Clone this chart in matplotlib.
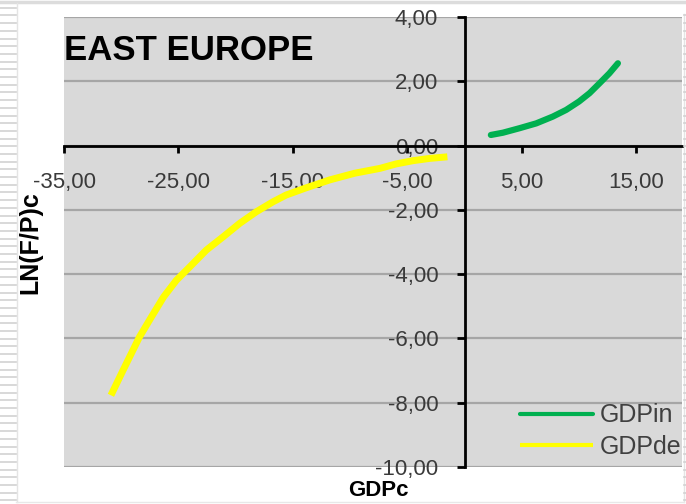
import matplotlib
matplotlib.use("Agg")
import matplotlib.pyplot as plt
import matplotlib.ticker as ticker
from matplotlib.lines import Line2D

# data
gdp_in_x = [2.3, 3.35, 4.8, 6.26, 7.7, 8.88, 10.0, 10.92, 11.8, 12.66, 13.4]
gdp_in_y = [0.33, 0.40, 0.54, 0.69, 0.90, 1.11, 1.37, 1.63, 1.94, 2.25, 2.56]

gdp_de_x = [-30.9, -29.84, -28.4, -27.36, -26.3, -25.18, -24.0, -22.56, -21.1,
            -19.65, -18.2, -16.74, -15.6, -13.97, -11.8, -9.6, -7.4, -5.97,
            -4.5, -3.06, -1.5]
gdp_de_y = [-7.77, -6.99, -5.95, -5.33, -4.71, -4.19, -3.77, -3.25, -2.84,
            -2.42, -2.06, -1.75, -1.54, -1.33, -1.07, -0.86, -0.71, -0.57,
            -0.47, -0.40, -0.35]

x_ticks = [-35, -25, -15, -5, 5, 15]
y_ticks = [-10, -8, -6, -4, -2, 0, 2, 4]

W, H = 686, 504
plt.rcParams['font.family'] = ['Liberation Sans', 'DejaVu Sans']

fig = plt.figure(figsize=(W / 100, H / 100), dpi=100)
fig.patch.set_facecolor('white')

# spreadsheet background bits around the chart
def fx(px):
    return px / W

def fy(py):
    return 1 - py / H

fig.add_artist(Line2D([0, 1], [fy(1.5), fy(1.5)], color='#dcdcdc', lw=2.5))
fig.add_artist(Line2D([fx(16.5), fx(16.5)], [fy(3), fy(502)], color='#e4e4e4', lw=1))
fig.add_artist(Line2D([fx(684), fx(684)], [fy(14), fy(502)], color='#e4e4e4', lw=1))
fig.add_artist(Line2D([fx(16), fx(684)], [fy(502), fy(502)], color='#e8e8e8', lw=1))
py = 7.7
while py < H:
    fig.add_artist(Line2D([0, fx(16)], [fy(py), fy(py)], color='#d2d2d2', lw=1.2))
    if py > 14:
        fig.add_artist(Line2D([fx(684), 1], [fy(py), fy(py)], color='#d2d2d2', lw=1.2))
    py += 7.7

ax = fig.add_axes([fx(64), fy(467), (682 - 64) / W, (467 - 17) / H])
ax.set_facecolor('#d9d9d9')

ax.plot(gdp_in_x, gdp_in_y, color='#00b050', lw=4.5, solid_capstyle='round',
        solid_joinstyle='round', label='GDPin', zorder=3)
ax.plot(gdp_de_x, gdp_de_y, color='#ffff00', lw=5, solid_capstyle='butt',
        solid_joinstyle='round', label='GDPde', zorder=3)

ax.set_xlim(-35, 19)
ax.set_ylim(-10, 4)
ax.set_xticks(x_ticks)
ax.set_yticks(y_ticks)

fmt = ticker.FuncFormatter(lambda v, p: f"{v:.2f}".replace('.', ','))
ax.xaxis.set_major_formatter(fmt)
ax.yaxis.set_major_formatter(fmt)

ax.spines['top'].set_visible(False)
ax.spines['right'].set_visible(False)
ax.spines['left'].set_position(('data', 0))
ax.spines['bottom'].set_position(('data', 0))
for s in ('left', 'bottom'):
    ax.spines[s].set_linewidth(2)
    ax.spines[s].set_color('black')
    ax.spines[s].set_zorder(4)

ax.tick_params(axis='x', direction='out', length=5, width=2, pad=14,
               labelsize=16, labelcolor='#3a3a3a')
ax.tick_params(axis='y', direction='out', length=6, width=2, pad=13,
               labelsize=16, labelcolor='#3a3a3a')
for lab in ax.get_xticklabels() + ax.get_yticklabels():
    lab.set_zorder(5)

ax.yaxis.grid(True, color='#a6a6a6', lw=1.6)
ax.xaxis.grid(False)
ax.set_axisbelow(True)

fig.text(fx(64), fy(51), 'EAST EUROPE', fontsize=25, fontweight='bold',
         ha='left', va='center')
fig.text(fx(30), fy(243), 'LN(F/P)c', fontsize=18, fontweight='bold',
         rotation=90, ha='center', va='center')
fig.text(fx(378), fy(491), 'GDPc', fontsize=16, fontweight='bold',
         ha='center', va='center')

leg = ax.legend(loc='center left', bbox_to_anchor=(fx(520), fy(431)),
                bbox_transform=fig.transFigure, frameon=False, fontsize=18,
                handlelength=2.9, handletextpad=0.3, labelspacing=0.28,
                borderpad=0, borderaxespad=0)
for t in leg.get_texts():
    t.set_color('#404040')
for h in leg.get_lines():
    h.set_linewidth(3)

fig.savefig('out.png', dpi=100)
